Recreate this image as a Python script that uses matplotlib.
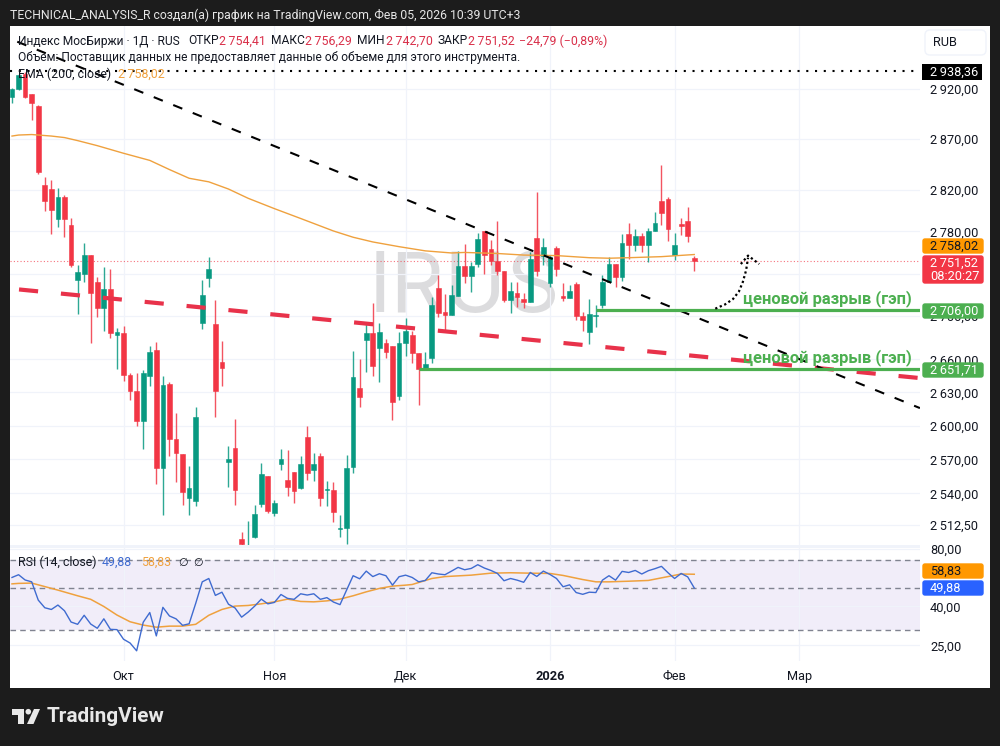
import matplotlib
matplotlib.use("Agg")
import matplotlib.pyplot as plt
from matplotlib.patches import Rectangle, FancyBboxPatch, Polygon, Circle
from matplotlib.ticker import NullLocator

open_ = [2912,2920,2935,2915,2903,2825,2821,2792,2813,2786,
         2734,2740,2758,2732,2708,2725,2683,2684,2646,2631,
         2604,2645,2669,2562,2638,2588,2575,2536,2533,2694,
         2736,2693,2658,2568,2580,2500,2485,2502,2531,2555,
         2523,2566,2552,2559,2545,2590,2561,2573,2543,2543,
         2509,2510,2563,2634,2678,2684,2671,2675,2672,2627,
         2675,2683,2666,2651,2661,2726,2704,2701,2719,2747,
         2738,2749,2780,2763,2752,2742,2715,2722,2716,2713,
         2774,2757,2731,2764,2719,2717,2730,2700,2685,2700,
         2710,2732,2749,2737,2778,2767,2776,2767,2780,2809,
         2811,2758,2787,2790,2754.41]
high = [2921,2935,2937,2915,2904,2833,2830,2822,2815,2793,
        2748,2769,2758,2737,2746,2744,2689,2691,2648,2648,
        2650,2672,2676,2645,2639,2611,2575,2564,2617,2734,
        2756,2715,2677,2582,2606,2506,2516,2530,2567,2555,
        2534,2579,2578,2559,2573,2600,2576,2576,2551,2550,
        2521,2574,2668,2660,2694,2712,2694,2679,2672,2685,
        2698,2686,2666,2667,2718,2739,2721,2729,2761,2768,
        2751,2779,2780,2772,2790,2742,2732,2732,2722,2760,
        2818,2774,2758,2766,2731,2729,2732,2704,2716,2710,
        2739,2756,2749,2778,2788,2782,2779,2783,2799,2844,
        2813,2779,2793,2804,2756.29]
low = [2906,2919,2911,2889,2836,2800,2778,2784,2775,2746,
       2702,2732,2675,2699,2686,2680,2651,2640,2623,2600,
       2579,2636,2548,2521,2573,2550,2530,2521,2529,2688,
       2727,2608,2636,2546,2530,2490,2480,2501,2528,2523,
       2520,2561,2538,2532,2544,2552,2551,2529,2529,2515,
       2502,2496,2558,2617,2649,2645,2639,2661,2605,2623,
       2663,2657,2619,2651,2657,2699,2686,2701,2719,2731,
       2723,2746,2740,2748,2739,2713,2703,2709,2708,2713,
       2738,2748,2727,2738,2714,2717,2696,2686,2674,2690,
       2708,2732,2727,2733,2754,2761,2760,2751,2780,2786,
       2771,2753,2777,2770,2742.7]
close = [2920,2934,2912,2906,2838,2809,2801,2813,2792,2748,
         2741,2758,2722,2708,2725,2684,2685,2646,2631,2604,
         2648,2667,2562,2637,2588,2576,2541,2545,2608,2720,
         2744,2631,2652,2570,2543,2496,2490,2522,2557,2525,
         2532,2570,2546,2542,2566,2558,2566,2536,2544,2524,
         2510,2562,2644,2626,2684,2654,2685,2667,2621,2675,
         2686,2666,2651,2656,2710,2703,2701,2720,2747,2738,
         2747,2773,2758,2752,2742,2715,2724,2718,2713,2754,
         2742,2765,2756,2744,2717,2724,2700,2696,2702,2701,
         2732,2749,2737,2769,2767,2776,2767,2780,2788,2798,
         2782,2767,2785,2776,2751.52]

ema_idx = [0,1,3,6,8,10,13,17,21,24,27,30,33,36,40,44,49,52,55,59,63,67,69,74,78,83,88,91,94,99,104]
ema_val = [2873,2874,2874.5,2873,2871.5,2868.5,2863.5,2856,2849,2840,2831.5,2828,2821,2812,2802,2792.5,
           2780.5,2774.5,2770,2765.5,2761.5,2759.5,2760,2759,2757.5,2757,2755,2754.5,2755,2756,2758.02]

rsi = [56.6,58.5,54.9,53.7,43.1,39.3,38.5,40.6,37.9,33.1,
       32.2,35.9,32.3,30.7,34.4,30.3,30.2,26.9,25.7,23.4,
       33.0,37.1,28.0,39.5,35.6,34.4,31.8,32.4,41.4,53.7,
       55.9,45.6,47.4,41.0,39.2,35.1,37.3,40.1,43.6,41.2,
       41.9,46.1,44.0,43.5,46.5,45.8,46.5,43.5,44.4,42.1,
       40.8,48.6,57.8,55.7,61.1,57.2,59.2,57.8,51.6,57.1,
       58.2,56.6,53.7,54.6,59.9,59.0,58.5,61.1,63.9,62.1,
       63.1,66.0,63.4,61.6,59.4,54.4,55.9,54.8,53.4,60.1,
       57.3,61.1,58.7,55.9,50.6,51.8,47.2,46.2,47.4,47.2,
       54.8,57.8,54.8,60.9,60.1,61.6,59.0,61.4,62.9,64.7,
       59.9,55.9,59.4,57.0,49.88]
rsi_ma_idx = [0,1,3,4,7,10,12,14,16,18,20,22,24,26,28,30,32,34,36,38,40,42,44,46,48,50,52,54,56,58,60,61,64,66,70,73,76,79,82,84,87,89,91,94,97,100,102,104]
rsi_ma_val = [52.4,52.7,52.9,51.8,48.6,45.4,43.5,39.9,36.0,33.2,31.9,31.1,31.5,31.5,32.2,35.9,38.5,40.1,40.4,41.2,
              42.2,43.6,42.4,42.2,42.7,43.6,45.4,47.6,49.6,51.0,51.6,52.0,55.9,57.2,58.2,59.6,59.9,59.6,59.4,58.0,
              55.2,53.7,53.7,54.1,54.6,57.2,59.0,58.83]

price_ticks = [2920,2870,2820,2780,2740,2700,2660,2630,2600,2570,2540,2512.5]
rsi_ticks = [80,40,25]
rsi_bands = [70,50,30]
month_idx = [17,40,60,82,101,120]
month_lab = ["Окт","Ноя","Дек","2026","Фев","Мар"]

black_x, black_y = [0.8,138.4],[2968,2615.8]
red_x, red_y = [1.07,138.4],[2725,2643]
gap_levels = [2706.0,2651.71]
gap_start = [89,62]
arrow_x = [107.2,108.7,109.9,110.8,111.4,111.9,112.2]
arrow_y = [2707,2711,2716,2723,2732,2743,2755]
head_x = [111.1,112.2,113.9]
head_y = [2749,2757,2749]
high_line = 2938.36
last_price = 2751.52

FONT = ['Roboto','DejaVu Sans']
plt.rcParams['font.family'] = FONT
PX = 0.72
GREEN,RED,GAP = '#089981','#f23645','#4caf50'
INK = '#131722'
W,H = 1000,746
fig = plt.figure(figsize=(W/100,H/100),dpi=100,facecolor='#1c1c1c')

def box(l,t,r,b):
    return [l/W,1-b/H,(r-l)/W,(b-t)/H]

back = fig.add_axes([0,0,1,1],zorder=0); back.set_xlim(0,W); back.set_ylim(H,0); back.axis('off')
back.add_patch(Rectangle((10,26),980,662,fc='white',ec='none'))
back.add_patch(Rectangle((10,545),910,3,fc='#f0f3fa',ec='none'))

ax = fig.add_axes(box(10,26,920,545),zorder=1)
rs = fig.add_axes(box(10,548,920,661),zorder=1)
for a in (ax,rs):
    a.patch.set_visible(False)
    for s in a.spines.values(): s.set_visible(False)
    a.set_yscale('log')
    a.set_xlim(-0.305,138.41)
    a.yaxis.tick_right()
    a.yaxis.set_minor_locator(NullLocator())
    a.set_xticks(month_idx)
    a.grid(True,color='#f0f3fa',lw=0.9,zorder=0)
    a.set_axisbelow(True)
    a.tick_params(axis='both',length=0,labelsize=9.2,labelcolor=INK)
    a.tick_params(axis='y',pad=7.2)

ax.set_ylim(2495.2,2984.1)
ax.set_yticks(price_ticks)
ax.yaxis.set_minor_locator(NullLocator())
ax.set_yticklabels([f"{int(v//1000)}\u2009{v%1000:06.2f}".replace('.',',') for v in price_ticks])
ax.set_xticklabels([])

ax.text(0.5,0.491,"IRUS",transform=ax.transAxes,ha='center',va='center',fontsize=60,color='#dcdcde',zorder=0.5,family=['Inter','DejaVu Sans'])

xs = list(range(len(close)))
cols = [GREEN if c>=o else RED for o,c in zip(open_,close)]
ax.vlines(xs,low,high,colors=cols,lw=1.0,zorder=2,alpha=0.85)
ax.bar(xs,[abs(c-o) for o,c in zip(open_,close)],bottom=[min(o,c) for o,c in zip(open_,close)],
       width=0.72,color=cols,edgecolor=cols,lw=0.4,zorder=3)
ax.plot(ema_idx,ema_val,color='#efa13e',lw=1.0,zorder=4)
ax.axhline(last_price,color=RED,lw=0.8,ls=(0,(1,2)),alpha=0.7,zorder=1.5)
ax.axhline(high_line,color='black',lw=1.5,ls=(0,(1,3.2)),zorder=4)
ax.plot(red_x,red_y,color='#e8324a',lw=3.0,ls=(0,(4.6,5.5)),dash_capstyle='butt',zorder=5)
ax.plot(black_x,black_y,color='black',lw=1.5,ls=(0,(4.7,5.4)),dash_capstyle='butt',zorder=6)
for lv,st in zip(gap_levels,gap_start):
    ax.plot([st,138.41],[lv,lv],color=GAP,lw=2.3,zorder=7,solid_capstyle='butt')
ax.plot(arrow_x,arrow_y,color='black',lw=1.6,ls=(0,(1,1.2)),zorder=8)
ax.plot(head_x,head_y,color='black',lw=1.6,ls=(0,(1,1.2)),zorder=8)

rs.set_ylim(20.7,80.7)
rs.set_yticks(rsi_ticks)
rs.yaxis.set_minor_locator(NullLocator())
rs.set_yticklabels([f"{v},00" for v in rsi_ticks])
rs.set_xticklabels(month_lab)
rs.tick_params(axis='x',pad=6.4)
for t in rs.get_xticklabels():
    if t.get_text()=="2026": t.set_fontweight('bold')
rs.axhspan(rsi_bands[2],rsi_bands[0],color='#f1edf9',lw=0,zorder=0.5)
for b in rsi_bands:
    rs.axhline(b,color='#808390',lw=1.0,ls=(0,(4,3)),zorder=1)
rs.plot(rsi_ma_idx,rsi_ma_val,color='#efa13e',lw=1.1,zorder=3)
rs.plot(xs,rsi,color='#3f6bd0',lw=1.0,zorder=4)

fr = fig.add_axes([0,0,1,1],zorder=5); fr.set_xlim(0,W); fr.set_ylim(H,0); fr.axis('off')
def T(x,y,s,c=INK,size=12.0,w='normal',ha='left',fam=None):
    fr.text(x,y,s,color=c,fontsize=size*PX,fontweight=w,ha=ha,va='center',family=fam or FONT)
def label(t,b,c,txt,tc='white',txt2=None):
    fr.add_patch(FancyBboxPatch((923,t+1),60,b-t-2,boxstyle='round,pad=0,rounding_size=2',fc=c,ec=c,lw=1))
    if txt2:
        T(930,t+8,txt,tc,12.7); T(930,t+22,txt2,tc,12.7)
    else:
        T(930,(t+b)/2,txt,tc,12.7)

T(10,15,"TECHNICAL_ANALYSIS_R создал(а) график на TradingView.com, Фев 05, 2026 10:39 UTC+3",'#e6e6e6',12.3)
T(18,41,"Индекс МосБиржи · 1Д · RUS")
for x,lab,xv,v in [(188,"ОТКР",219,"2\u2009754,41"),(271,"МАКС",305,"2\u2009756,29"),(357,"МИН",386,"2\u2009742,70"),(437,"ЗАКР",468,"2\u2009751,52")]:
    T(x,41,lab)
    T(xv,41,v,'#d9304a',12.4)
T(519,41,"−24,79 (−0,89%)",'#d9304a',12.4)
T(18,57.5,"Объем: Поставщик данных не предоставляет данные об объеме для этого инструмента.")
T(18,74,"EMA (200, close)",INK,12.4)
T(118,74,"2\u2009758,02",'#efa13e',12.4)
T(18,562,"RSI (14, close)",INK,12.4)
T(102,562,"49,88",'#3f6bd0',12.4)
T(141,562,"58,83",'#efa13e',12.4)
T(183,563,"∅",INK,11,ha='center',fam=['DejaVu Sans'])
T(198,563,"∅",INK,11,ha='center',fam=['DejaVu Sans'])

fr.add_patch(FancyBboxPatch((925,30),61,25,boxstyle='round,pad=0,rounding_size=5',fc='white',ec='#f0f3fa',lw=1))
T(933,42.5,"RUB",INK,12.7)
fr.add_patch(Rectangle((922,64),60,16,fc='black',ec='none'))
T(930,72,"2\u2009938,36",'white',12.7)
label(238,254,'#ff9800',"2\u2009758,02",INK)
label(255,284,RED,"2\u2009751,52",'white',"08:20:27")
label(303,319,GAP,"2\u2009706,00")
label(362,378,GAP,"2\u2009651,71")
label(563,579,'#ff9800',"58,83",INK)
label(580,596,'#2962ff',"49,88")

T(743,299,"ценовой разрыв (гэп)",GAP,16.5,'bold')
T(743,358,"ценовой разрыв (гэп)",GAP,16.5,'bold')

lc = '#e8e8e8'
fr.add_patch(Polygon([(11.7,709),(24,709),(24,724),(18,724),(18,715),(11.7,715)],fc=lc,ec='none'))
fr.add_patch(Circle((28.3,711.7),2.8,fc=lc,ec='none'))
fr.add_patch(Polygon([(34,709),(40,709),(33.5,724),(27,724)],fc=lc,ec='none'))
T(47,717,"TradingView",lc,20.8,'bold')

fig.savefig("out.png",dpi=100,facecolor=fig.get_facecolor())
